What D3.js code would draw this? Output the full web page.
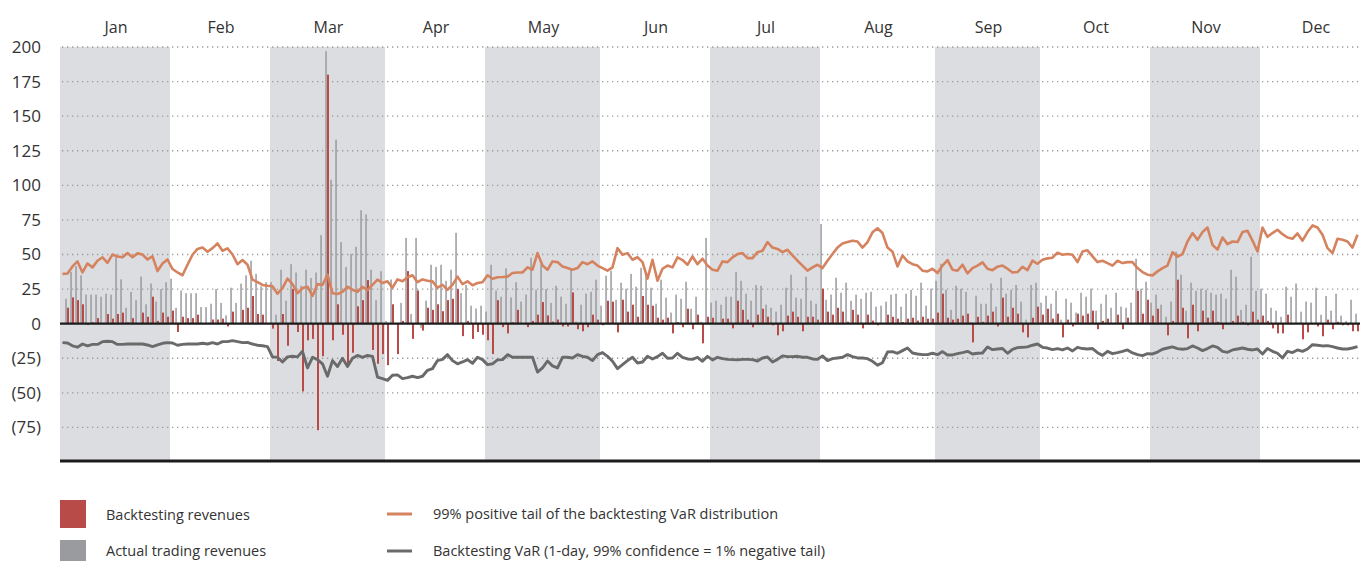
<!DOCTYPE html>
<html><head><meta charset="utf-8">
<script src="https://cdn.jsdelivr.net/npm/d3@7"></script>
<style>
html,body{margin:0;padding:0;background:#fff;}
svg{display:block;font-family:"Open Sans","Noto Sans",sans-serif;}
</style></head><body>
<svg id="chart" width="1360" height="561"></svg>
<script>
// ---------- DATA ----------
const months = ["Jan","Feb","Mar","Apr","May","Jun","Jul","Aug","Sep","Oct","Nov","Dec"];
// first trading-day slot of each month, and total number of slots on the axis
const monthStart = [0,22,42,65,85,108,130,152,175,196,218,240];
const slotCount = 262;
const yTicks = [200,175,150,125,100,75,50,25,0,-25,-50,-75];
const yMin = -100, yMax = 200;

const actualTradingRevenues = [
 0,18,37.5,41.6,35,21,21,21,19.5,21.7, 21,48,32,11.5,23,17,34,14,29,16,
 25,30,32.5,11.5,24,22,22,22,12,12, 14.4,25,15,6,26,15,29,35,45.5,36,
 27,30,30,6.5,39,16.6,43,37,27.4,39, 33,37,
 64,197,104,133,59,41,50.5,55.6,82,79, 39,17,38,2,32,0,15,62,7,62,
 -3,16.6,42.6,41,42.6,31,39,65.7,22,28, 13,11,13,8.7,42.6,24,19.5,40,19,30,
 16,21,47.6,24.5,43,25,15,27.4,19.5,14.4, 39,1.5,
 13.7,21.7,23,31.8,13,34.7,38.3,17.3,29.6,25.3, 36,26.7,40.4,36,26,14.4,31.8,18.8,8,21,
 18,30.3,10.8,19.5,1.4,62,15.2,16.6,13.7,19.5, 19.5,37.5,31,21.7,16.6,28,27.4,13.7,11.5,8.7,
 13.7,26,35.4,18.8,18,34,16.6,14.4,72,17.3, 21,33.2,
 22.4,29.6,16.6,21,18,22.4,23,12.3,13,15.9, 21,21.7,12.3,21.7,24.5,20.2,29.6,13,25.3,31,
 43.3,24.5,10,27.4,25.3,23,1,20.2,14.4,14.4, 29,12.3,33.2,21.7,24.5,28,15.9,2.9,28,29.6,
 15.2,20.2,14.4,23.8,2.9,18,15.2,8,22.4,19.5, 25.3,9.4,
 14.4,21,11.5,22.4,12.3,11.5,15.2,47,25.3,30.3, 15.2,21,13.7,5,16,52,35.4,9.4,29.6,23.8,
 25.3,24.5,22.4,21,21.7,18,39,34,10,13.7, 48.4,23.8,25.3,21.7,11.5,9.4,5,26.7,19.5,29,
 8.7,16,15.2,26,6.5,20,9.4,21.7,5.8,2, 17.3,7.2
];
const backtestingRevenues = [
 0,11.5,19,17,14,-1,1,4,0,7, 3.6,7,8,1,4,0,8,5,19.5,2,
 8,5,9.4,-6,5,4,4,6.5,0,0, 3,3,3.6,-2,8.7,0,10,11.5,20,7,
 6.5,0,-3.6,-27,7,-16,25,-6,-49,-12, -11,-77,
 -23.5,180,-12,14,-8,-29.5,-21,12.5,17,31.5, -19,-29,-22,-30,14,-22,2,38,-11,24,
 -5,11.5,10,14,9,17,18,25,-9,2, -11,-6,-8,-12,-22,17,-2.5,-7,1,10,
 0,-2.5,2,6.5,15.6,6,1.5,3,-2,-2, 22.6,-4,
 -5.5,-2.6,6.5,2.9,-1.2,16.6,15.9,-6.3,17.3,8.7, 13.7,5,20,13.7,13,4.3,2.9,4.3,-7,1.2,
 -2.6,10.8,-4,6.5,-14.2,5,4.3,0,3.6,3.6, -3.4,16.6,10,2.9,-2.6,6.5,10.8,5,-1.2,-8.4,
 -5.5,5.8,8.7,5,-5.5,5,5,2.9,25.3,8.7, 6.5,11.5,
 8.7,1.4,10,6.5,-3.4,6.5,2.2,-1.2,0,6.5, 5,3.6,1.2,3.6,4.3,2.2,5,3.6,3.6,8,
 21.7,4.3,2.9,3.6,5.8,7.2,-13.5,5,1.4,5.8, 8.7,-2,18.8,5,11.5,7.2,-6.3,-9.9,4.3,12.3,
 6.5,10.8,3.6,7.2,-9.9,2.9,-2,7.2,5.8,7.2, 9.4,-4,
 2,3.6,0,6.5,-4,4.3,0,23.8,7.2,17.3, 5.8,10.8,0,-8.4,2,31.8,11.5,-10.6,13.7,-5.5,
 9.4,4.3,9.4,1.4,-4,0,2,5.8,1.4,-1.2, 8.7,2.9,5.8,2,-3.4,-7,-7,6.5,0,0,
 -11.3,-6.3,0,-2,-9.1,2.9,-4,1.4,-1.2,-1.2, -5.5,-5.5
];
const positiveTail = [
 36,36.3,41.4,45,37,43.5,40.7,45.5,48,44, 50,48.6,48,51,48,50.8,50,46.4,48.6,38,
 43.5,46.4,39.5,37,35,42.6,49.8,54,55,52, 54.6,58,52.7,54.4,50,43,46,42.6,31.8,30,
 28,27.4,27,21.7,25.7,32.5,28.6,22,25.7,26.7, 20,28.6,
 28,35.4,22,21.4,23,26.7,24.5,23,26.7,24.3, 28,31.8,29.4,30.6,26,32,30.6,33.5,35,30,
 32,31,30.6,26,28,24.5,28,34,28.6,30.6, 27.7,29.4,30,35,32.5,33.5,33.7,34,36.6,37,
 37,40.7,39,51,42,39,45,44.5,41.4,40.2, 39,40.2,
 44.5,43,45,42,40.2,38.3,40.7,54.6,49.8,51, 46.2,48,44.5,32.5,46.2,31,39.7,42,40.7,47.9,
 46,42.6,48.6,43,47,42,39,38.3,45,44.5, 47.9,50.3,51,47.4,47.4,51.7,52.7,59,55,54,
 51.7,53.4,49.3,45.5,42,38.3,40.7,42.6,40.2,45.5, 50.3,55,
 58,59,60,59.4,55,59,66,69,65.5,55, 52,41.4,49.3,45,43,42,38.3,37.8,39.7,36.6,
 42,46,39,38.3,42.6,36.3,40.2,42,44.3,39.7, 38.7,41.2,42,39.7,37,37.3,41,38.7,45.5,43.3,
 46.2,47.2,47.7,51.3,49.8,50.3,49.8,44.5,52.2,53, 48.6,44.5,
 45.5,43.8,42,45.5,43.8,44.5,44.5,40.2,37.3,35.4, 34.9,37.8,40.2,42,51.7,48.4,50.3,59.4,65.5,60.6,
 66.2,69.5,57,53.5,62.3,57.5,59.4,59,66.2,67.1, 60,52.2,69.5,62.8,65.5,67.9,64.7,62.3,61.4,65.2,
 60,66.2,71,69.5,64.3,54.6,51,61.4,60.6,59.4, 55,64.3
];
const backtestingVaR = [
 -13.7,-14,-16,-17,-14.7,-16,-15,-15,-13,-12.7, -13,-15,-15,-14.7,-14.7,-14.7,-14.7,-15.4,-16.6,-15.4,
 -14.2,-13.7,-14,-15.6,-15,-14.7,-14.7,-14.7,-14.2,-14.7, -13.7,-14.7,-13,-13,-12.3,-13,-13.7,-13.5,-14.7,-15.6,
 -16,-16.6,-24,-24.3,-27.7,-24,-23.6,-24,-20,-32, -24.3,-26,
 -29,-38,-26.7,-31,-25,-31,-25,-23,-24.3,-23, -23.6,-38.7,-39.7,-41,-37.3,-37,-39.7,-39,-38,-39,
 -38,-33.7,-32.5,-26.7,-25.8,-22.4,-26.7,-29,-27.7,-26, -28.6,-24.3,-26,-29.6,-29,-26.2,-26,-22.4,-24.3,-24.3,
 -24.3,-24.3,-24.3,-35,-32,-27,-30.5,-32,-24.3,-24.3, -24.8,-22.4,
 -23.6,-24.3,-26.7,-22.4,-20.9,-23.6,-27.2,-32.5,-29.6,-26.7, -24.3,-28.4,-27.7,-23.6,-25.5,-23.8,-21.4,-25,-24.8,-21.4,
 -24.3,-25.5,-25.8,-24.3,-27.2,-23.6,-26.2,-24.3,-25.3,-25.8, -26,-26.2,-25.8,-25.8,-26,-27,-24.8,-24.1,-27.7,-25.8,
 -23.3,-23.8,-23.8,-23.6,-24.3,-24.3,-25.5,-25.8,-23.3,-26.7, -25.3,-24.8,
 -24.3,-22.4,-23.8,-24.8,-24.8,-25.3,-27.2,-30,-28.2,-20.5, -20.2,-21.4,-19.5,-17.6,-21.2,-21.9,-22.4,-22.4,-21.4,-22.4,
 -20.2,-22.6,-22.6,-21.7,-20.9,-20,-21.9,-21.4,-21.2,-16.8, -18.8,-18.3,-18,-21.4,-18.5,-17.3,-17.1,-16.8,-15.6,-14.7,
 -17.1,-17.6,-18.8,-18,-19,-17.6,-19.7,-17.1,-18,-18.3, -18,-21,
 -22.9,-20,-21.7,-20.9,-20,-19,-21.2,-22.4,-23.1,-21.7, -21.9,-20.5,-18.5,-17.6,-16.8,-18,-18.5,-18,-16.1,-17.6,
 -19.5,-18,-16.1,-17.1,-20,-20.7,-19,-18.3,-17.6,-18.5, -19,-18.3,-21.9,-18,-20,-21.4,-24.8,-20,-20.9,-19,
 -20,-18.3,-15.2,-15.6,-16.1,-15.9,-16.6,-17.6,-18.3,-18.3, -17.6,-16.6
];

// ---------- CHART ----------
const svg = d3.select("#chart");
const W = 1360, H = 561;
const plotLeft = 60, plotRight = 1370, plotTop = 47, plotBottom = 462;

const x = d3.scaleLinear().domain([0, slotCount]).range([plotLeft, plotRight]);
const y = d3.scaleLinear().domain([yMin, yMax]).range([plotBottom, plotTop]);
const bw = x(1) - x(0);

const C = {
  shade: "#dcdde0", grid: "#9b9b9b", red: "#b84a47", gray: "#9a9b9f",
  tail: "#d5825f", varLine: "#6a6a6a", axis: "#1c1c1c", text: "#333"
};

// month shading and labels
const monthBands = months.map((m, k) => ({
  name: m,
  x0: x(monthStart[k]),
  x1: x(k < months.length - 1 ? monthStart[k + 1] : slotCount),
  shaded: k % 2 === 0
}));
svg.append("g").selectAll("rect").data(monthBands.filter(d => d.shaded)).join("rect")
  .attr("x", d => d.x0).attr("width", d => d.x1 - d.x0)
  .attr("y", y(yMax)).attr("height", y(yMin) - y(yMax))
  .attr("fill", C.shade);
svg.append("g").selectAll("text").data(monthBands).join("text")
  .attr("x", d => (d.x0 + d.x1) / 2 + 1).attr("y", 33)
  .attr("text-anchor", "middle").attr("font-size", 16).attr("fill", C.text)
  .text(d => d.name);

// dotted gridlines
svg.append("g").selectAll("line").data(yTicks.filter(t => t !== 0)).join("line")
  .attr("x1", plotLeft + 2).attr("x2", W)
  .attr("y1", d => y(d)).attr("y2", d => y(d))
  .attr("stroke", C.grid).attr("stroke-width", 1.3)
  .attr("stroke-dasharray", "1.3 3.7");

// y labels
const fmt = v => v < 0 ? "(" + Math.abs(v) + ")" : String(v);
const yAxis = d3.axisLeft(y).tickValues(yTicks).tickFormat(fmt).tickSize(0).tickPadding(0);
const ya = svg.append("g").attr("transform", `translate(41,0)`).call(yAxis);
ya.select(".domain").remove();
ya.selectAll("text").attr("font-size", 17).attr("fill", C.text)
  .attr("font-family", '"Open Sans","Noto Sans",sans-serif');

// bars
const idx = d3.range(actualTradingRevenues.length);
svg.append("g").selectAll("rect").data(idx).join("rect")
  .attr("x", i => x(i) + bw * 0.06).attr("width", bw * 0.3)
  .attr("y", i => y(Math.max(0, actualTradingRevenues[i])))
  .attr("height", i => Math.abs(y(actualTradingRevenues[i]) - y(0)))
  .attr("fill", C.gray);
svg.append("g").selectAll("rect").data(idx).join("rect")
  .attr("x", i => x(i) + bw * 0.4).attr("width", bw * 0.4)
  .attr("y", i => y(Math.max(0, backtestingRevenues[i])))
  .attr("height", i => Math.abs(y(backtestingRevenues[i]) - y(0)))
  .attr("fill", C.red);

// lines
const line = d3.line().x((d, i) => x(i + 0.5)).y(d => y(d)).curve(d3.curveLinear);
svg.append("path").datum(positiveTail).attr("d", line)
  .attr("fill", "none").attr("stroke", C.tail).attr("stroke-width", 2.6)
  .attr("stroke-linejoin", "round");
svg.append("path").datum(backtestingVaR).attr("d", line)
  .attr("fill", "none").attr("stroke", C.varLine).attr("stroke-width", 2.9)
  .attr("stroke-linejoin", "round");

// zero line and bottom axis line
svg.append("line").attr("x1", plotLeft).attr("x2", W).attr("y1", y(0)).attr("y2", y(0))
  .attr("stroke", C.axis).attr("stroke-width", 2.2);
svg.append("line").attr("x1", plotLeft).attr("x2", W).attr("y1", y(yMin) - 1).attr("y2", y(yMin) - 1)
  .attr("stroke", C.axis).attr("stroke-width", 3.2);

// legend
const leg = svg.append("g").attr("font-size", 14.5).attr("fill", C.text);
const boxes = [
  {label: "Backtesting revenues", color: C.red, y: 500, ty: 520},
  {label: "Actual trading revenues", color: C.gray, y: 540, ty: 556}
];
boxes.forEach(b => {
  leg.append("rect").attr("x", 60).attr("y", b.y).attr("width", 26).attr("height", 28).attr("fill", b.color);
  leg.append("text").attr("x", 106).attr("y", b.ty).text(b.label);
});
const lines = [
  {label: "99% positive tail of the backtesting VaR distribution", color: C.tail, y: 514},
  {label: "Backtesting VaR (1-day, 99% confidence = 1% negative tail)", color: C.varLine, y: 551}
];
lines.forEach(l => {
  leg.append("line").attr("x1", 387).attr("x2", 412).attr("y1", l.y).attr("y2", l.y)
    .attr("stroke", l.color).attr("stroke-width", 3);
  leg.append("text").attr("x", 433).attr("y", l.y + 5).text(l.label);
});
</script>
</body></html>
